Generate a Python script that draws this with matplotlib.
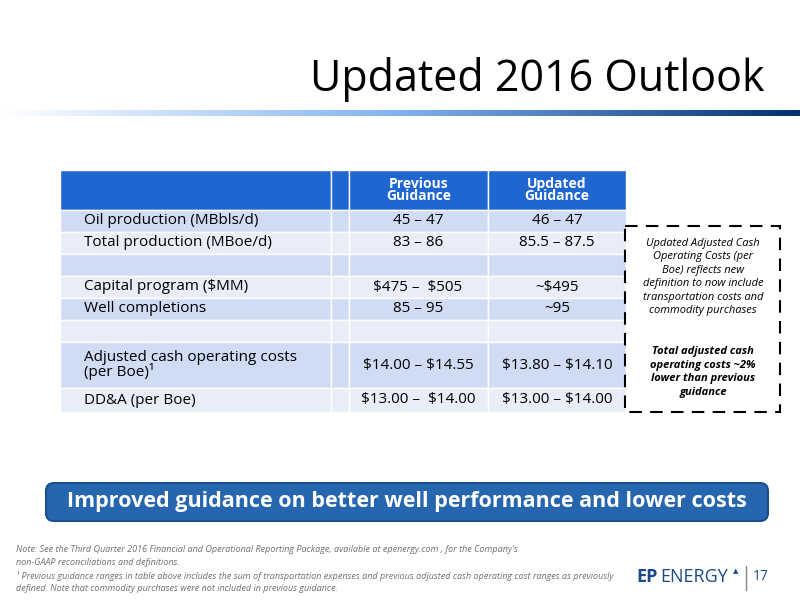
import numpy as np
import matplotlib.pyplot as plt
from matplotlib.patches import Rectangle, FancyBboxPatch
from matplotlib.colors import LinearSegmentedColormap

title = "Updated 2016 Outlook"
headers = ["", "", "Previous\nGuidance", "Updated\nGuidance"]
row_labels = ["Oil production (MBbls/d)", "Total production (MBoe/d)", "",
              "Capital program ($MM)", "Well completions", "",
              "Adjusted cash operating costs\n(per Boe)¹", "DD&A (per Boe)"]
previous = ["45 – 47", "83 – 86", "", "$475 –  $505", "85 – 95", "",
            "$14.00 – $14.55", "$13.00 –  $14.00"]
updated = ["46 – 47", "85.5 – 87.5", "", "~$495", "~95", "",
           "$13.80 – $14.10", "$13.00 – $14.00"]
row_heights = [22, 22, 22, 22, 22, 22, 46, 24]

plt.rcParams['font.family'] = ['Open Sans', 'DejaVu Sans']
plt.rcParams['text.parse_math'] = False
fig = plt.figure(figsize=(8, 6), dpi=100)
ax = fig.add_axes([0, 0, 1, 1])
ax.axis('off')

# title and gradient rule
ax.text(765, 80, title, fontsize=31, ha='right', va='center', color='black')
grad = np.linspace(0, 1, 400).reshape(1, -1)
cmap = LinearSegmentedColormap.from_list('rule', ['#ffffff', '#7fb3f0', '#003070'])
ax.imshow(grad, cmap=cmap, extent=(0, 800, 116, 110), aspect='auto', zorder=1)
ax.set_xlim(0, 800)
ax.set_ylim(600, 0)

# table
col_x = [60, 331, 349, 488, 626]
top = 170
for i in range(4):
    ax.add_patch(Rectangle((col_x[i], top), col_x[i + 1] - col_x[i], 40,
                           facecolor='#1F66D0', edgecolor='white', lw=1))
    if headers[i]:
        ax.text((col_x[i] + col_x[i + 1]) / 2, top + 20, headers[i], color='white',
                fontsize=10, fontweight='bold', ha='center', va='center', linespacing=0.9)
y = top + 40
for r, h in enumerate(row_heights):
    fc = '#D0DCF4' if r % 2 == 0 else '#E8EDF8'
    for i in range(4):
        ax.add_patch(Rectangle((col_x[i], y), col_x[i + 1] - col_x[i], h,
                               facecolor=fc, edgecolor='white', lw=1))
    cy = y + h / 2
    ax.text(84, cy, row_labels[r], fontsize=11, ha='left', va='center', linespacing=0.9)
    ax.text(418, cy, previous[r], fontsize=11, ha='center', va='center')
    ax.text(557, cy, updated[r], fontsize=11, ha='center', va='center')
    y += h

# dashed callout
ax.add_patch(Rectangle((625, 226), 155, 186, fill=False, ls=(0, (6, 4)), lw=1.5, ec='black'))
ax.text(703, 277, "Updated Adjusted Cash\nOperating Costs (per\nBoe) reflects new\n"
        "definition to now include\ntransportation costs and\ncommodity purchases",
        fontsize=8, style='italic', ha='center', va='center', linespacing=1.3)
ax.text(703, 372, "Total adjusted cash\noperating costs ~2%\nlower than previous\nguidance",
        fontsize=8, style='italic', fontweight='bold', ha='center', va='center', linespacing=1.3)

# banner
ax.add_patch(FancyBboxPatch((46, 483), 722, 38, boxstyle="round,pad=0,rounding_size=8",
                            fc='#2566AE', ec='#1A4F8C', lw=1.5))
ax.text(407, 502, "Improved guidance on better well performance and lower costs",
        fontsize=15.5, fontweight='bold', color='white', ha='center', va='center')

# footnotes
note_color = '#707070'
notes = ["Note: See the Third Quarter 2016 Financial and Operational Reporting Package, "
         "available at epenergy.com , for the Company's",
         "non-GAAP reconciliations and definitions.",
         "¹ Previous guidance ranges in table above includes the sum of transportation expenses "
         "and previous adjusted cash operating cost ranges as previously",
         "defined. Note that commodity purchases were not included in previous guidance."]
for k, line in enumerate(notes):
    ax.text(16, 549 + k * 13.3, line, fontsize=6.5, style='italic', color=note_color, va='center')

ax.text(636, 577, "EP", fontsize=13, fontweight='bold', color='#1A4A8A', va='center')
ax.text(660, 577, "ENERGY", fontsize=13, color='#1A4A8A', va='center')
ax.text(733, 572, "▲", fontsize=5, color='#1A4A8A', va='center')
ax.plot([746, 746], [566, 590], color='#888888', lw=1)
ax.text(753, 577, "17", fontsize=10, color='#1A4A8A', va='center')

fig.savefig('out.png', dpi=100)
